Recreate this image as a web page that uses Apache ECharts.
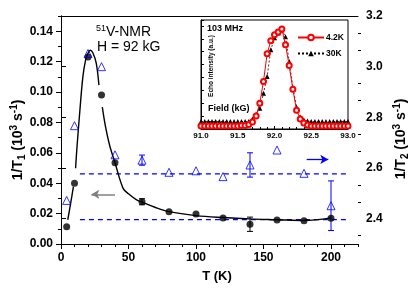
<!DOCTYPE html>
<html><head><meta charset="utf-8">
<script src="https://cdn.jsdelivr.net/npm/echarts@6/dist/echarts.min.js"></script>
<style>html,body{margin:0;padding:0;background:#fff}#c{width:415px;height:294px}</style>
</head><body><div id="c"></div>
<script>
// ---- main plot data ----
const temps   = [4.2, 10, 20, 30, 40, 60, 80, 100, 120, 140, 160, 180, 200];
const invT1   = [0.0114, 0.040, 0.123, 0.098, 0.0535, 0.0278, 0.0212, 0.0197, 0.0171, 0.0130, 0.0158, 0.0153, 0.0169];
const invT1Err= [0, 0, 0, 0, 0, 0.002, 0, 0, 0, 0.0047, 0, 0, 0];
const invT2   = [2.472, 2.767, 3.052, 3.000, 2.652, 2.631, 2.583, 2.589, 2.566, 2.612, 2.671, 2.579, 2.451];
const invT2Err= [0, 0, 0, 0, 0, 0.02, 0, 0, 0, 0.048, 0, 0, 0.098];
// fitted curve for 1/T1 (gaps where the curve is interrupted)
const fitT = [5, 7, 9.2, 10, 10.8, 11.7, 14, 16.2, 18.2, 20, 21.7, 23.5, 26.1, 28.1, 29.5, 30.6, 33, 36, 40, 46, 50, 56, 60, 70, 80, 100, 120, 140, 160, 180, 200];
const fitV = [0.0158, 0.026, 0.0377, '-', 0.0498, 0.062, 0.088, 0.110, 0.121, 0.1255, 0.1275, 0.126, 0.119, 0.1045, '-', 0.090, 0.077, 0.065, 0.0535, 0.0366, 0.033, 0.029, 0.0275, 0.024, 0.0213, 0.0187, 0.0174, 0.0165, 0.016, 0.0155, 0.0172];
const dashT = [14, 212];
const dashT2Level = 2.577;   // right axis
const dashT1Level = 0.016;   // left axis
const xTicks = [0, 50, 100, 150, 200];
const yLeftTicks = [0, 0.02, 0.04, 0.06, 0.08, 0.10, 0.12, 0.14];
const yRightTicks = [2.4, 2.6, 2.8, 3.0, 3.2];
const yRightMinor = [2.3333, 2.4667, 2.5333, 2.6667, 2.7333, 2.8667, 2.9333, 3.0667, 3.1333];

// ---- inset data ----
const fieldB = [91.00,91.05,91.10,91.15,91.20,91.25,91.30,91.35,91.40,91.45,91.50,91.55,91.60,91.65,91.70,91.75,91.80,91.85,91.90,91.95,92.00,92.05,92.10,92.15,92.20,92.25,92.30,92.35,92.40,92.45,92.50,92.55,92.60,92.65,92.70,92.75,92.80,92.85,92.90,92.95,93.00];
const echo4K = [0.03,0.03,0.03,0.03,0.03,0.03,0.03,0.03,0.03,0.03,0.03,0.035,0.035,0.045,0.07,0.13,0.26,0.48,0.76,0.89,0.95,0.98,1.01,0.85,0.64,0.40,0.19,0.10,0.06,0.04,0.03,0.03,0.03,0.03,0.03,0.03,0.03,0.03,0.03,0.03,0.03];
const echo30K = [0.076,0.076,0.076,0.076,0.076,0.076,0.076,0.076,0.076,0.076,0.076,0.076,0.076,0.076,0.10,0.15,0.21,0.36,0.53,0.80,0.92,0.97,1.00,0.93,0.68,0.42,0.22,0.12,0.09,0.08,0.076,0.076,0.076,0.076,0.076,0.076,0.076,0.076,0.076,0.076,0.076];

const BLUE = '#0000ff';
const FONT = 'Liberation Sans, Arial, sans-serif';
const chart = echarts.init(document.getElementById('c'), null, {renderer: 'canvas'});

function errSeries(ys, es, yAxisIndex, color) {
  const data = [];
  temps.forEach((t, i) => { if (es[i] > 0) data.push([t, ys[i] - es[i], ys[i] + es[i]]); });
  return {
    type: 'custom', xAxisIndex: 0, yAxisIndex: yAxisIndex, data: data, z: 3, silent: true,
    encode: {x: 0, y: [1, 2]},
    renderItem: function (params, api) {
      const x = api.value(0);
      const lo = api.coord([x, api.value(1)]);
      const hi = api.coord([x, api.value(2)]);
      const w = 3, st = {stroke: color, lineWidth: 1};
      return {type: 'group', children: [
        {type: 'line', shape: {x1: lo[0], y1: lo[1], x2: hi[0], y2: hi[1]}, style: st},
        {type: 'line', shape: {x1: lo[0] - w, y1: lo[1], x2: lo[0] + w, y2: lo[1]}, style: st},
        {type: 'line', shape: {x1: hi[0] - w, y1: hi[1], x2: hi[0] + w, y2: hi[1]}, style: st}
      ]};
    }
  };
}

const lbl = {color: '#000', fontWeight: 'bold', fontSize: 12, fontFamily: FONT};

const option = {
  animation: false,
  backgroundColor: '#fff',
  grid: [
    {left: 61, top: 16, right: 57, bottom: 50, show: false},
    {left: 201, top: 20, width: 147, height: 109, show: true, backgroundColor: '#fff', borderColor: '#000', borderWidth: 1, z: 5}
  ],
  xAxis: [
    {gridIndex: 0, type: 'value', min: 0, max: 220, position: 'bottom',
     axisLine: {show: true, lineStyle: {color: '#000', width: 1}},
     axisTick: {show: true, length: 5, customValues: xTicks, lineStyle: {color: '#000'}},
     axisLabel: Object.assign({customValues: xTicks, margin: 8}, lbl),
     splitLine: {show: false}},
    {gridIndex: 0, type: 'value', min: 0, max: 220, interval: 10, position: 'bottom',
     axisLine: {show: false}, axisTick: {show: true, length: 3, lineStyle: {color: '#000'}},
     axisLabel: {show: false}, splitLine: {show: false}},
    {gridIndex: 0, type: 'value', min: 0, max: 220, position: 'top',
     axisLine: {show: true, lineStyle: {color: '#000'}}, axisTick: {show: false},
     axisLabel: {show: false}, splitLine: {show: false}},
    {gridIndex: 1, type: 'value', min: 91, max: 93, interval: 0.5, position: 'bottom', z: 6,
     axisLine: {show: true, lineStyle: {color: '#000'}},
     axisTick: {show: true, inside: true, length: 3, lineStyle: {color: '#000'}},
     minorTick: {show: true, splitNumber: 5, length: 2, lineStyle: {color: '#000'}},
     axisLabel: {color: '#000', fontWeight: 'bold', fontSize: 8, fontFamily: FONT, margin: 3,
                 formatter: v => v.toFixed(1)},
     splitLine: {show: false}}
  ],
  yAxis: [
    {gridIndex: 0, type: 'value', min: 0, max: 0.15, position: 'left',
     axisLine: {show: true, lineStyle: {color: '#000'}},
     axisTick: {show: true, length: 5, customValues: yLeftTicks, lineStyle: {color: '#000'}},
     axisLabel: Object.assign({customValues: yLeftTicks, margin: 8, formatter: v => v.toFixed(2)}, lbl),
     splitLine: {show: false}},
    {gridIndex: 0, type: 'value', min: 2.3, max: 3.2, position: 'right',
     axisLine: {show: true, lineStyle: {color: '#000'}},
     axisTick: {show: true, length: 5, customValues: yRightTicks, lineStyle: {color: '#000'}},
     axisLabel: Object.assign({customValues: yRightTicks, margin: 8, formatter: v => v.toFixed(1)}, lbl),
     splitLine: {show: false}},
    {gridIndex: 0, type: 'value', min: 0, max: 0.15, interval: 0.01, position: 'left',
     axisLine: {show: false}, axisTick: {show: true, length: 3, lineStyle: {color: '#000'}},
     axisLabel: {show: false}, splitLine: {show: false}},
    {gridIndex: 0, type: 'value', min: 2.3, max: 3.2, position: 'right',
     axisLine: {show: false}, axisTick: {show: true, length: 3, customValues: yRightMinor, lineStyle: {color: '#000'}},
     axisLabel: {show: false}, splitLine: {show: false}},
    {gridIndex: 1, type: 'value', min: 0, max: 1.1, interval: 0.13, position: 'left', z: 6,
     axisLine: {show: true, lineStyle: {color: '#000'}},
     axisTick: {show: true, inside: true, length: 3, lineStyle: {color: '#000'}},
     axisLabel: {show: false}, splitLine: {show: false}}
  ],
  legend: {
    show: true, left: 292, top: 28, orient: 'vertical', itemWidth: 26, itemHeight: 7, itemGap: 7,
    textStyle: {color: '#000', fontWeight: 'bold', fontSize: 8.5, fontFamily: FONT, padding: [0, 0, 0, -3]},
    data: ['4.2K', '30K'], selectedMode: false, z: 10
  },
  series: [
    {name: 'fit', type: 'line', xAxisIndex: 0, yAxisIndex: 0, smooth: 0.35, showSymbol: false, connectNulls: false,
     data: fitT.map((t, i) => [t, fitV[i]]), lineStyle: {color: '#000', width: 1.4}, z: 2, silent: true},
    {name: 'dash2', type: 'line', xAxisIndex: 0, yAxisIndex: 1, showSymbol: false,
     data: dashT.map(t => [t, dashT2Level]), lineStyle: {color: BLUE, width: 1.3, type: [5, 4]}, z: 1,
     markLine: {silent: true, symbol: ['none', 'arrow'], symbolSize: [7, 8], label: {show: false},
       lineStyle: {color: BLUE, width: 1.3, type: 'solid'},
       data: [[{coord: [182, 2.634]}, {coord: [198, 2.634]}]]}},
    {name: 'dash1', type: 'line', xAxisIndex: 0, yAxisIndex: 0, showSymbol: false,
     data: dashT.map(t => [t, dashT1Level]), lineStyle: {color: BLUE, width: 1.3, type: [5, 4]}, z: 1,
     markLine: {silent: true, symbol: ['none', 'arrow'], symbolSize: [7, 8], label: {show: false},
       lineStyle: {color: '#808080', width: 1.5, type: 'solid'},
       data: [[{coord: [40, 0.0327]}, {coord: [22.5, 0.0327]}]]}},
    errSeries(invT1, invT1Err, 0, '#000'),
    errSeries(invT2, invT2Err, 1, BLUE),
    {name: 'T1', type: 'scatter', xAxisIndex: 0, yAxisIndex: 0, symbol: 'circle', symbolSize: 7,
     data: temps.map((t, i) => [t, invT1[i]]), itemStyle: {color: '#000'}, z: 4},
    {name: 'T2', type: 'scatter', xAxisIndex: 0, yAxisIndex: 1, symbol: 'triangle', symbolSize: 8,
     data: temps.map((t, i) => [t, invT2[i]]),
     itemStyle: {color: 'rgba(255,255,255,0)', borderColor: BLUE, borderWidth: 1}, z: 4},
    {name: '30K', type: 'line', xAxisIndex: 3, yAxisIndex: 4, symbol: 'triangle', symbolSize: 5,
     data: fieldB.map((b, i) => [b, echo30K[i]]),
     lineStyle: {color: '#000', width: 0.8, type: [2, 2]}, itemStyle: {color: '#000'}, z: 7},
    {name: '4.2K', type: 'line', xAxisIndex: 3, yAxisIndex: 4, symbol: 'emptyCircle', symbolSize: 5,
     data: fieldB.map((b, i) => [b, echo4K[i]]),
     lineStyle: {color: '#ff0000', width: 1}, itemStyle: {color: '#ff0000', borderWidth: 1}, z: 8}
  ],
  graphic: [
    {type: 'text', left: 96, top: 24, z: 20, style: {
      text: '{s|51}{n|V-NMR}', rich: {
        s: {fontSize: 9, fontFamily: FONT, fill: '#000', verticalAlign: 'top', lineHeight: 16},
        n: {fontSize: 14, fontFamily: FONT, fill: '#000', lineHeight: 16}}}},
    {type: 'text', x: 97, y: 47, z: 20, style: {text: 'H = 92 kG', fontSize: 14, fontFamily: FONT, fill: '#000', verticalAlign: 'middle'}},
    {type: 'text', x: 18, y: 140, rotation: Math.PI / 2, z: 20, style: {
      text: '{n|1/T}{b|1}{n| (10}{t|3}{n| s}{t|-1}{n|)}', align: 'center', verticalAlign: 'middle', rich: {
        n: {fontSize: 14, fontWeight: 'bold', fontFamily: FONT, fill: '#000', lineHeight: 18},
        b: {fontSize: 10, fontWeight: 'bold', fontFamily: FONT, fill: '#000', verticalAlign: 'bottom', lineHeight: 18},
        t: {fontSize: 10, fontWeight: 'bold', fontFamily: FONT, fill: '#000', verticalAlign: 'top', lineHeight: 18}}}},
    {type: 'text', x: 401, y: 139, rotation: Math.PI / 2, z: 20, style: {
      text: '{n|1/T}{b|2}{n| (10}{t|3}{n| s}{t|-1}{n|)}', align: 'center', verticalAlign: 'middle', rich: {
        n: {fontSize: 14, fontWeight: 'bold', fontFamily: FONT, fill: '#000', lineHeight: 18},
        b: {fontSize: 10, fontWeight: 'bold', fontFamily: FONT, fill: '#000', verticalAlign: 'bottom', lineHeight: 18},
        t: {fontSize: 10, fontWeight: 'bold', fontFamily: FONT, fill: '#000', verticalAlign: 'top', lineHeight: 18}}}},
    {type: 'text', x: 217, y: 276, z: 20, style: {text: 'T (K)', fontSize: 13, fontWeight: 'bold', fontFamily: FONT, fill: '#000', align: 'center', verticalAlign: 'middle'}},
    {type: 'text', x: 207, y: 29, z: 20, style: {text: '103 MHz', fontSize: 9, fontWeight: 'bold', fontFamily: FONT, fill: '#000', verticalAlign: 'middle'}},
    {type: 'text', x: 208, y: 109, z: 20, style: {text: 'Field (kG)', fontSize: 9, fontWeight: 'bold', fontFamily: FONT, fill: '#000', verticalAlign: 'middle'}},
    {type: 'text', x: 211, y: 66, rotation: Math.PI / 2, z: 20, style: {text: 'Echo intensity (a.u.)', fontSize: 6.5, fontWeight: 'bold', fontFamily: FONT, fill: '#000', align: 'center', verticalAlign: 'middle'}}
  ]
};
chart.setOption(option);
</script></body></html>
